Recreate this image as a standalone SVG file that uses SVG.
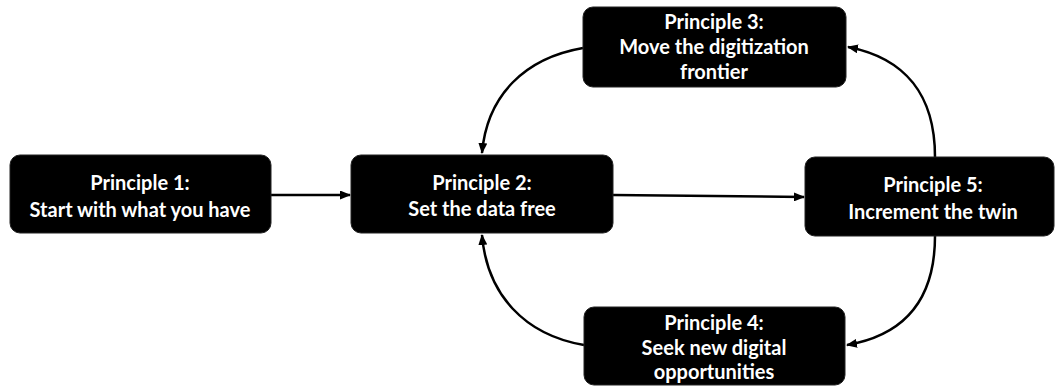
<svg xmlns="http://www.w3.org/2000/svg" width="1056" height="386" viewBox="0 0 1056 386">
<defs>
<marker id="ah" markerWidth="11" markerHeight="9" refX="10" refY="4.5" orient="auto" markerUnits="userSpaceOnUse">
<path d="M0,0 L11,4.5 L0,9 z" fill="#000"/>
</marker>
<style>
.box{fill:#000;stroke:#222;stroke-width:1}
.t{font-family:Lato,"Open Sans",sans-serif;font-weight:bold;font-size:20px;fill:#fff;text-anchor:middle}
.c{fill:none;stroke:#000;stroke-width:2.5;marker-end:url(#ah)}
</style>
</defs>
<rect width="1056" height="386" fill="#fff"/>
<g id="connectors">
<path class="c" d="M271,195 L350,195"/>
<path class="c" d="M613,195 L804,197"/>
<path class="c" d="M935,157 C935,95 905,58 848,47"/>
<path class="c" d="M583,48 C525,58 487,95 482,153"/>
<path class="c" d="M584,345 C525,335 487,295 482,235"/>
<path class="c" d="M935,236 C935,300 905,335 847,345"/>
</g>
<g id="p1">
<rect class="box" x="10" y="155" width="261" height="78" rx="10"/>
<text class="t" x="140" y="190">Principle 1:</text>
<text class="t" x="140" y="217">Start with what you have</text>
</g>
<g id="p2">
<rect class="box" x="351" y="155" width="262" height="78" rx="10"/>
<text class="t" x="482" y="190">Principle 2:</text>
<text class="t" x="482" y="216">Set the data free</text>
</g>
<g id="p3">
<rect class="box" x="583" y="7" width="263" height="80" rx="10"/>
<text class="t" x="714" y="29">Principle 3:</text>
<text class="t" x="714" y="54">Move the digitization</text>
<text class="t" x="714" y="79">frontier</text>
</g>
<g id="p4">
<rect class="box" x="584" y="307" width="261" height="78" rx="10"/>
<text class="t" x="714" y="330">Principle 4:</text>
<text class="t" x="714" y="355">Seek new digital</text>
<text class="t" x="714" y="379">opportunities</text>
</g>
<g id="p5">
<rect class="box" x="805" y="157" width="249" height="79" rx="10"/>
<text class="t" x="933" y="192">Principle 5:</text>
<text class="t" x="933" y="219">Increment the twin</text>
</g>
</svg>
